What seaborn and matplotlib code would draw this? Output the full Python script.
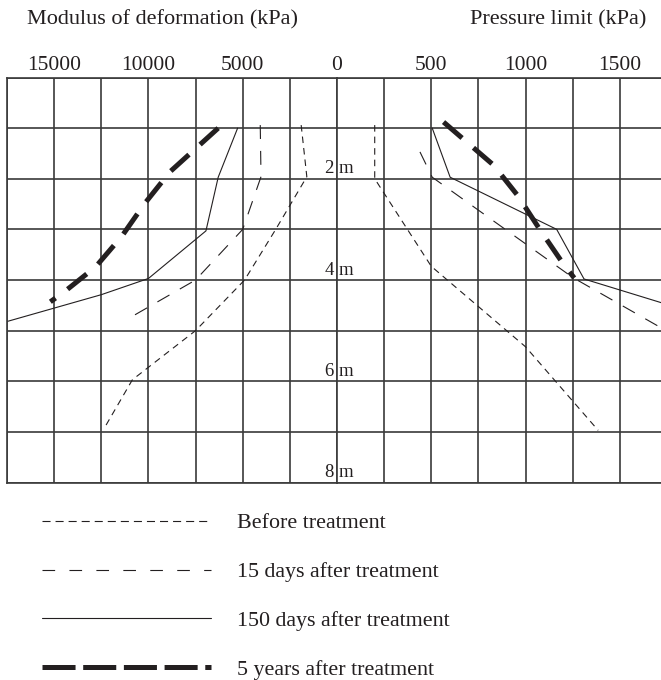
import matplotlib
matplotlib.use("Agg")
import matplotlib.pyplot as plt
from matplotlib.lines import Line2D
import pandas as pd
import seaborn as sns

# ---- data: depth (m) against measured value (kPa) for each survey ----
stages = ["Before treatment", "15 days after treatment",
          "150 days after treatment", "5 years after treatment"]

# Modulus of deformation (kPa)
mod_before_depth = [0.94, 1.96, 3.0, 4.0, 5.0, 5.97, 6.9]
mod_before = [1900, 1600, 3250, 4900, 7500, 10850, 12300]
mod_15d_depth = [0.94, 1.96, 3.0, 4.0, 4.77]
mod_15d = [4070, 4030, 5000, 7500, 11100]
mod_150d_depth = [1.0, 1.97, 3.03, 3.97, 4.29, 4.82]
mod_150d = [5270, 6300, 6950, 10000, 12500, 17500]
mod_5y_depth = [1.0, 1.86, 2.49, 3.13, 3.74, 4.23, 4.43]
mod_5y = [6300, 8850, 10200, 11400, 12800, 14450, 15200]

# Pressure limit (kPa)
pl_before_depth = [0.94, 2.0, 3.73, 5.32, 6.97]
pl_before = [200, 200, 500, 1000, 1385]
pl_15d_depth = [1.47, 1.97, 3.95, 5.0]
pl_15d = [440, 505, 1250, 1745]
pl_150d_depth = [1.0, 1.97, 3.0, 3.98, 4.5]
pl_150d = [505, 600, 1165, 1310, 1765]
pl_5y_depth = [0.88, 1.73, 2.34, 3.0, 3.66, 3.96]
pl_5y = [565, 830, 960, 1075, 1196, 1258]

mod_ticks = [15000, 10000, 5000, 0]
mod_grid = [17500, 12500, 7500, 2500]
pl_ticks = [500, 1000, 1500]
pl_grid = [250, 750, 1250]
depth_labels = [2, 4, 6, 8]

# ---- styling ----
sns.set_theme(style="white")
plt.rcParams["font.family"] = ["Liberation Serif", "DejaVu Serif"]
plt.rcParams["lines.scale_dashes"] = False
INK = "#231f20"
GRID = "#3a3a3a"

# line look per survey: (dash pattern in points or None, linewidth)
line_look = {
    stages[0]: ((4.7, 3.6), 0.8),
    stages[1]: ((10.0, 8.6), 0.8),
    stages[2]: (None, 0.8),
    stages[3]: ((17.6, 10.8), 3.6),
}
legend_look = {
    stages[0]: ((5.8, 3.6), 0.8),
    stages[1]: ((9.1, 10.3), 0.8),
    stages[2]: (None, 0.8),
    stages[3]: ((23.8, 5.5), 3.6),
}


def frame(stage, depth, values):
    return pd.DataFrame({"stage": stage, "depth": depth, "value": values})


mod_df = pd.concat([
    frame(stages[0], mod_before_depth, mod_before),
    frame(stages[1], mod_15d_depth, mod_15d),
    frame(stages[2], mod_150d_depth, mod_150d),
    frame(stages[3], mod_5y_depth, mod_5y),
])
pl_df = pd.concat([
    frame(stages[0], pl_before_depth, pl_before),
    frame(stages[1], pl_15d_depth, pl_15d),
    frame(stages[2], pl_150d_depth, pl_150d),
    frame(stages[3], pl_5y_depth, pl_5y),
])

W, H = 661, 680
fig = plt.figure(figsize=(W / 100, H / 100), dpi=100)
y_top, y_bot = 77.5, 482.5
x_left, x_mid = 7.0, 337.0
ax_mod = fig.add_axes([x_left / W, 1 - y_bot / H, (x_mid - x_left) / W, (y_bot - y_top) / H])
ax_pl = fig.add_axes([x_mid / W, 1 - y_bot / H, (W - x_mid) / W, (y_bot - y_top) / H])

cell_px = (x_mid - x_left) / 7
pl_max = 250 * (W - x_mid) / cell_px


def draw(ax, df):
    for stage in stages:
        dash, lw = line_look[stage]
        ls = "-" if dash is None else (0, dash)
        sns.lineplot(data=df[df["stage"] == stage], x="value", y="depth",
                     sort=False, estimator=None, color=INK, linewidth=lw,
                     linestyle=ls, ax=ax, legend=False, clip_on=True)


draw(ax_mod, mod_df)
draw(ax_pl, pl_df)

for ax in (ax_mod, ax_pl):
    ax.set_ylim(8, 0)
    ax.set_yticks(range(0, 9))
    ax.set_yticklabels([])
    ax.set_xlabel("")
    ax.set_ylabel("")
    ax.xaxis.tick_top()
    ax.tick_params(axis="both", which="both", length=0)
    ax.tick_params(axis="x", which="major", pad=2, labelsize=15.5, labelcolor=INK)
    ax.grid(True, which="both", color=GRID, linewidth=1.2)
    ax.set_axisbelow(True)
    for side, sp in ax.spines.items():
        sp.set_color(GRID)
        sp.set_linewidth(1.2)

ax_mod.set_xlim(17500, 0)
ax_mod.set_xticks(mod_ticks)
ax_mod.set_xticklabels([str(v) for v in mod_ticks])
ax_mod.set_xticks(mod_grid, minor=True)
ax_mod.spines["right"].set_visible(False)

ax_pl.set_xlim(0, pl_max)
ax_pl.set_xticks(pl_ticks)
ax_pl.set_xticklabels([str(v) for v in pl_ticks])
ax_pl.set_xticks(pl_grid, minor=True)
ax_pl.spines["right"].set_visible(False)

# depth labels straddling the centre line
for d in depth_labels:
    ax_pl.annotate(str(d), xy=(0, d), xytext=(-2.2, 3.9), textcoords="offset points",
                   ha="right", va="baseline", fontsize=13.5, color=INK)
    ax_pl.annotate("m", xy=(0, d), xytext=(1.5, 3.9), textcoords="offset points",
                   ha="left", va="baseline", fontsize=13.5, color=INK)

fig.text(27 / W, 1 - 24 / H, "Modulus of deformation (kPa)", ha="left",
         va="baseline", fontsize=16, color=INK)
fig.text(646 / W, 1 - 24 / H, "Pressure limit (kPa)", ha="right",
         va="baseline", fontsize=16, color=INK)

handles = []
for stage in stages:
    dash, lw = legend_look[stage]
    ls = "-" if dash is None else (0, dash)
    handles.append(Line2D([], [], color=INK, linewidth=lw, linestyle=ls))

fig.legend(handles, stages, loc="upper left", bbox_to_anchor=(42 / W, 1 - 513 / H),
           frameon=False, fontsize=15.8, handlelength=7.7, handletextpad=1.2,
           labelspacing=1.3, borderpad=0, borderaxespad=0, labelcolor=INK)

fig.savefig("out.png", dpi=100)
